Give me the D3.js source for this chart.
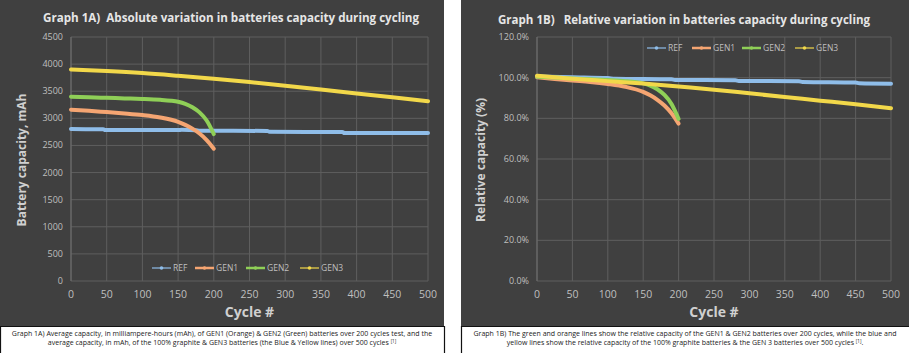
<!DOCTYPE html>
<html>
<head>
<meta charset="utf-8">
<script src="https://cdn.jsdelivr.net/npm/d3@7"></script>
<style>
    body { margin: 0; background: #ffffff; }
    svg text { font-family: "Open Sans", "Noto Sans", sans-serif; }
    .grid line { stroke: #5e5e5e; stroke-width: 1; }
    .tick-label { fill: #bfbfbf; }
    .chart-title { fill: #e6e6e6; font-weight: bold; white-space: pre; }
    .axis-title { fill: #d0d0d0; font-weight: bold; }
    .legend-text { fill: #bfbfbf; font-size: 8.5px; }
    .caption { fill: #222222; font-size: 7px; }
</style>
</head>
<body>
<div id="charts"></div>
<script>

// tick values
var cycleTicks = [0, 50, 100, 150, 200, 250, 300, 350, 400, 450, 500];
var capacityTicks = [0, 500, 1000, 1500, 2000, 2500, 3000, 3500, 4000, 4500];
var relativeTicks = [0, 20, 40, 60, 80, 100, 120];

var seriesNames = ["REF", "GEN1", "GEN2", "GEN3"];
var seriesColors = ["#8fbde9", "#f5a572", "#8fcf57", "#f2d84a"];

// Graph 1A - absolute capacity, mAh
var refCyclesA = [0, 20, 45, 48, 150, 155, 175, 180, 275, 278, 380, 383, 500];
var refCapacityA = [2805, 2800, 2798, 2785, 2783, 2790, 2782, 2772, 2768, 2752, 2748, 2730, 2728];

var gen1CyclesA = [0, 25, 50, 75, 100, 125, 150, 160, 170, 180, 190, 200];
var gen1CapacityA = [3160, 3140, 3115, 3090, 3060, 3015, 2935, 2880, 2810, 2720, 2600, 2440];

var gen2CyclesA = [0, 25, 50, 75, 100, 125, 140, 150, 160, 170, 180, 190, 200];
var gen2CapacityA = [3400, 3388, 3378, 3368, 3358, 3342, 3325, 3305, 3268, 3205, 3110, 2960, 2710];

var gen3CyclesA = [0, 50, 100, 150, 200, 250, 300, 350, 400, 450, 500];
var gen3CapacityA = [3900, 3872, 3835, 3785, 3730, 3670, 3600, 3530, 3460, 3390, 3315];

// Graph 1B - relative capacity, %
var refCyclesB = [0, 50, 100, 110, 190, 195, 280, 285, 370, 375, 450, 455, 500];
var refRelativeB = [100.6, 100.2, 99.8, 99.5, 99.2, 98.9, 98.7, 98.4, 98.2, 97.9, 97.6, 97.2, 97.0];

var gen1CyclesB = [0, 25, 50, 75, 100, 125, 150, 160, 170, 180, 190, 200];
var gen1RelativeB = [100.2, 99.4, 98.6, 97.9, 96.9, 95.5, 93.0, 91.3, 89.1, 86.3, 82.5, 77.4];

var gen2CyclesB = [0, 25, 50, 75, 100, 125, 140, 150, 160, 170, 180, 190, 200];
var gen2RelativeB = [100.5, 100.1, 99.6, 99.2, 98.8, 98.3, 97.8, 97.2, 96.1, 94.3, 91.5, 87.1, 79.7];

var gen3CyclesB = [0, 50, 100, 150, 200, 250, 300, 350, 400, 450, 500];
var gen3RelativeB = [100.9, 99.5, 98.3, 97.1, 95.6, 94.1, 92.3, 90.5, 88.7, 86.9, 85.0];

var captionA = [
    "Graph 1A) Average capacity, in milliampere-hours (mAh), of GEN1 (Orange) & GEN2 (Green) batteries over 200 cycles test, and the",
    "average capacity, in mAh, of the 100% graphite & GEN3 batteries (the Blue & Yellow lines) over 500 cycles "
];
var captionB = [
    "Graph 1B) The green and orange lines show the relative capacity of the GEN1 & GEN2 batteries over 200 cycles, while the blue and",
    "yellow lines show the relative capacity of the 100% graphite batteries & the GEN 3 batteries over 500 cycles "
];


var svg = d3.select("#charts")
    .append("svg")
    .attr("width", 909)
    .attr("height", 353);

// Zip it like python
function zip(arrays) {
    return arrays[0].map(function (_, i) {
        return arrays.map(function (array) {
            return array[i]
        })
    });
}

function drawPanel(opts) {
    var g = svg.append("g");

    // dark chart background
    g.append("rect")
        .attr("x", opts.left)
        .attr("y", 0)
        .attr("width", opts.right - opts.left)
        .attr("height", 326)
        .attr("fill", "#404040");

    var x = d3.scaleLinear()
        .domain([0, 500])
        .range([opts.plotLeft, opts.plotRight]);

    var y = d3.scaleLinear()
        .domain(opts.yDomain)
        .range([281, 37]);

    // gridlines
    var grid = g.append("g").attr("class", "grid");
    grid.selectAll(".hgrid")
        .data(opts.yTicks)
        .enter().append("line")
        .attr("x1", x(0)).attr("x2", x(500))
        .attr("y1", function (d) { return y(d); })
        .attr("y2", function (d) { return y(d); });
    grid.selectAll(".vgrid")
        .data(cycleTicks)
        .enter().append("line")
        .attr("x1", function (d) { return x(d); })
        .attr("x2", function (d) { return x(d); })
        .attr("y1", y(opts.yDomain[0])).attr("y2", y(opts.yDomain[1]));

    // axis line on the left
    g.append("line")
        .attr("x1", x(0)).attr("x2", x(0))
        .attr("y1", y(opts.yDomain[0])).attr("y2", y(opts.yDomain[1]))
        .attr("stroke", "#6e6e6e");

    // tick labels
    g.selectAll(".ylab")
        .data(opts.yTicks)
        .enter().append("text")
        .attr("class", "tick-label")
        .attr("x", x(0) - 8)
        .attr("y", function (d) { return y(d) + 3; })
        .attr("text-anchor", "end")
        .style("font-size", "9px")
        .text(opts.yFormat);

    g.selectAll(".xlab")
        .data(cycleTicks)
        .enter().append("text")
        .attr("class", "tick-label")
        .attr("x", function (d) { return x(d); })
        .attr("y", 298)
        .attr("text-anchor", "middle")
        .style("font-size", "10.5px")
        .text(function (d) { return d; });

    // titles
    g.append("text")
        .attr("class", "chart-title")
        .attr("x", opts.titleX + opts.titleWidth / 2)
        .attr("y", opts.titleY)
        .attr("text-anchor", "middle")
        .attr("textLength", opts.titleWidth)
        .attr("lengthAdjust", "spacingAndGlyphs")
        .style("font-size", "12px")
        .text(opts.title);

    g.append("text")
        .attr("class", "axis-title")
        .attr("transform", "translate(" + opts.yTitleX + ",160) rotate(-90)")
        .attr("text-anchor", "middle")
        .style("font-size", "12px")
        .text(opts.yTitle);

    g.append("text")
        .attr("class", "axis-title")
        .attr("x", (x(0) + x(500)) / 2)
        .attr("y", 317)
        .attr("text-anchor", "middle")
        .style("font-size", "14px")
        .text("Cycle #");

    // series lines
    var line = d3.line()
        .x(function (d) { return x(d[0]); })
        .y(function (d) { return y(d[1]); })
        .curve(d3.curveMonotoneX);

    opts.series.forEach(function (s, i) {
        g.append("path")
            .attr("d", line(zip([s[0], s[1]])))
            .attr("fill", "none")
            .attr("stroke", seriesColors[i])
            .attr("stroke-width", 4)
            .attr("stroke-linejoin", "round")
            .attr("stroke-linecap", "round");
    });

    // legend
    var legend = g.selectAll(".legend")
        .data(seriesNames)
        .enter().append("g")
        .attr("transform", function (d, i) {
            return "translate(" + opts.legendX[i] + "," + opts.legendY + ")";
        });
    legend.append("line")
        .attr("x1", 0).attr("x2", 19)
        .attr("stroke", function (d, i) { return seriesColors[i]; })
        .attr("stroke-width", function (d, i) { return (i == 1 || i == 2) ? 2.5 : 1.2; });
    legend.append("circle")
        .attr("cx", 9.5)
        .attr("r", 1.8)
        .attr("fill", function (d, i) { return seriesColors[i]; });
    legend.append("text")
        .attr("class", "legend-text")
        .attr("x", 21)
        .attr("y", 3)
        .text(function (d) { return d; });

    // caption box underneath
    var cap = svg.append("g");
    cap.append("path")
        .attr("d", opts.captionBorder)
        .attr("fill", "none")
        .attr("stroke", "#111111")
        .attr("stroke-width", 1.2);
    opts.caption.forEach(function (t, i) {
        var txt = cap.append("text")
            .attr("class", "caption")
            .attr("x", (opts.left + opts.right) / 2)
            .attr("y", 336 + i * 9)
            .attr("text-anchor", "middle")
            .text(t);
        if (i == opts.caption.length - 1) {
            txt.append("tspan")
                .attr("dy", -2.5)
                .style("font-size", "4.5px")
                .text("[1]");
            txt.append("tspan")
                .attr("dy", 2.5)
                .text(opts.captionEnd);
        }
    });
}

drawPanel({
    left: 0, right: 444,
    plotLeft: 71, plotRight: 428,
    yDomain: [0, 4500],
    yTicks: capacityTicks,
    yFormat: function (d) { return d; },
    title: "Graph 1A)  Absolute variation in batteries capacity during cycling",
    titleX: 43, titleY: 22, titleWidth: 376,
    yTitle: "Battery capacity, mAh", yTitleX: 26,
    series: [[refCyclesA, refCapacityA], [gen1CyclesA, gen1CapacityA],
        [gen2CyclesA, gen2CapacityA], [gen3CyclesA, gen3CapacityA]],
    legendX: [152, 195, 246, 300], legendY: 268,
    caption: captionA, captionEnd: "",
    captionBorder: "M0.5,353 V326.5 H444.5 V353"
});

drawPanel({
    left: 461, right: 909,
    plotLeft: 537, plotRight: 891,
    yDomain: [0, 120],
    yTicks: relativeTicks,
    yFormat: function (d) { return d.toFixed(1) + "%"; },
    title: "Graph 1B)   Relative variation in batteries capacity during cycling",
    titleX: 498, titleY: 24, titleWidth: 372,
    yTitle: "Relative capacity (%)", yTitleX: 485,
    series: [[refCyclesB, refRelativeB], [gen1CyclesB, gen1RelativeB],
        [gen2CyclesB, gen2RelativeB], [gen3CyclesB, gen3RelativeB]],
    legendX: [647, 692, 742, 795], legendY: 48,
    caption: captionB, captionEnd: ".",
    captionBorder: "M461.5,353 V326.5 H909"
});

</script>
</body>
</html>
